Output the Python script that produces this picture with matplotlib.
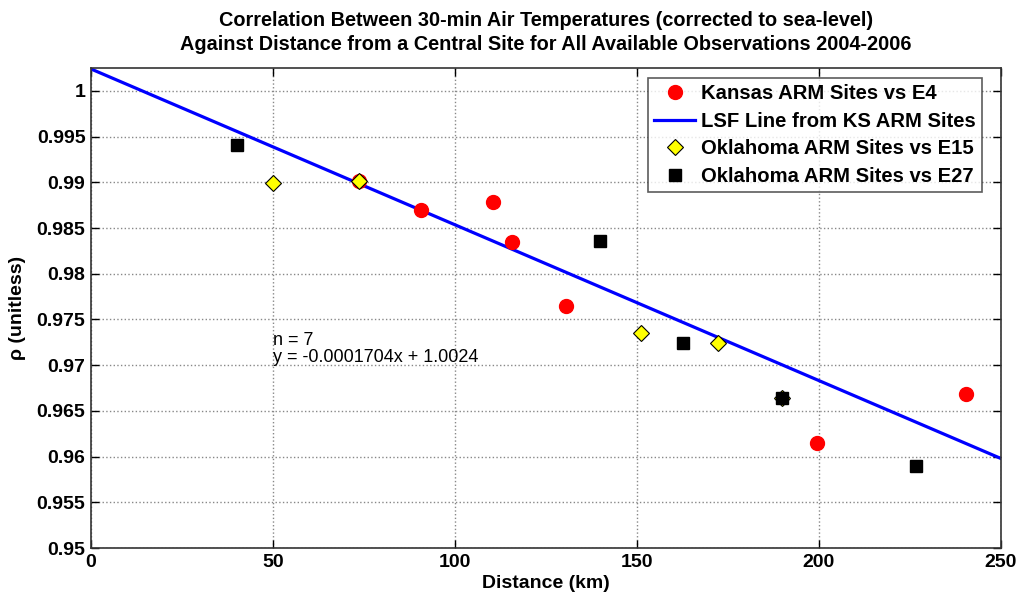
import numpy as np
import matplotlib
matplotlib.use('Agg')
import matplotlib.pyplot as plt

plt.rcParams['font.family'] = ['Liberation Sans', 'DejaVu Sans']

# Kansas ARM sites vs E4
ks_dist = [73.6, 90.7, 110.4, 115.6, 130.5, 199.4, 240.4]
ks_rho = [0.9902, 0.9870, 0.9878, 0.9835, 0.9765, 0.9615, 0.9668]

# Oklahoma ARM sites vs E15
ok15_dist = [50.1, 73.6, 151.0, 172.3, 190.0]
ok15_rho = [0.9899, 0.9902, 0.9735, 0.9724, 0.9664]

# Oklahoma ARM sites vs E27
ok27_dist = [40.0, 140.0, 162.7, 190.0, 226.6]
ok27_rho = [0.9941, 0.9836, 0.9724, 0.9664, 0.9590]

# least squares fit from KS sites
slope = -0.0001704
intercept = 1.0024
n_sites = 7

fig = plt.figure(figsize=(10.2, 5.97), dpi=100)
ax = fig.add_axes([0.0892, 0.082, 0.892, 0.804])

xl = np.array([0, 250])
ax.plot(ks_dist, ks_rho, 'o', color='red', markersize=10, mec='red',
        label='Kansas ARM Sites vs E4', zorder=3)
ax.plot(xl, slope * xl + intercept, color='blue', lw=2.3,
        label='LSF Line from KS ARM Sites', zorder=2)
ax.plot(ok15_dist, ok15_rho, 'D', color='yellow', mec='black', mew=0.8,
        markersize=8, label='Oklahoma ARM Sites vs E15', zorder=4)
ax.plot(ok27_dist, ok27_rho, 's', color='black', markersize=8,
        label='Oklahoma ARM Sites vs E27', zorder=5)

ax.text(50, 0.9727, 'n = %d' % n_sites, fontsize=13, va='center')
ax.text(50, 0.9708, 'y = %.7fx + %.4f' % (slope, intercept), fontsize=13,
        va='center')

ax.set_xlim(0, 250)
ax.set_ylim(0.95, 1.0025)
ax.set_xticks(np.arange(0, 251, 50))
ax.set_yticks(np.arange(0.95, 1.0001, 0.005))
ax.set_yticklabels(['0.95', '0.955', '0.96', '0.965', '0.97', '0.975',
                    '0.98', '0.985', '0.99', '0.995', '1'])
ax.grid(True, linestyle=':', color='#888888', lw=1)
ax.tick_params(direction='in', top=True, right=True, labelsize=14,
               length=6, width=1, pad=4)
for lab in ax.get_xticklabels() + ax.get_yticklabels():
    lab.set_fontweight('bold')
for s in ax.spines.values():
    s.set_linewidth(1.2)
    s.set_color('#333333')

ax.set_xlabel('Distance (km)', fontsize=14, fontweight='bold', labelpad=3)
ax.set_ylabel('ρ (unitless)', fontsize=14, fontweight='bold', labelpad=8)
ax.set_title('Correlation Between 30-min Air Temperatures (corrected to sea-level)\n'
             'Against Distance from a Central Site for All Available Observations 2004-2006',
             fontsize=14.3, fontweight='bold', pad=13, linespacing=1.35)

leg = ax.legend(loc='upper right', bbox_to_anchor=(0.979, 0.979),
                frameon=True, fancybox=False,
                prop={'size': 14.6, 'weight': 'bold'},
                borderpad=0.3, handlelength=2.0, handletextpad=0.3,
                labelspacing=0.42, borderaxespad=0, numpoints=1)
leg.get_frame().set_edgecolor('#333333')
leg.get_frame().set_linewidth(1.2)

fig.savefig('out.png', dpi=100)
